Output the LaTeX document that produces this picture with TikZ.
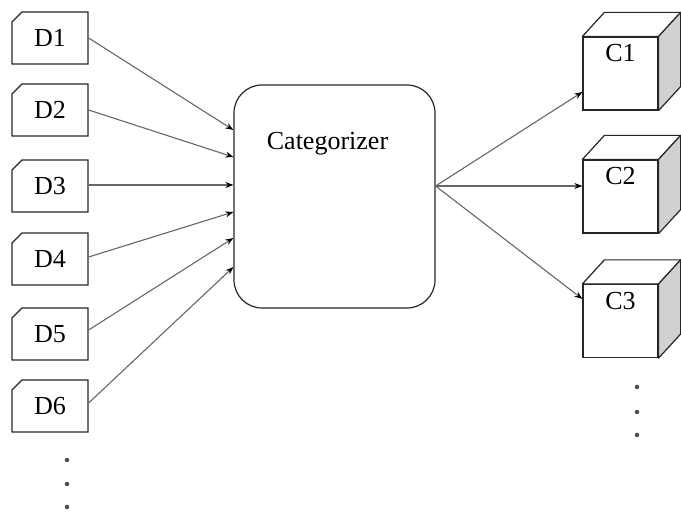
\documentclass[tikz,border=0pt]{standalone}
\usepackage{fontspec}
\setmainfont{Liberation Serif}
\usetikzlibrary{arrows.meta,shapes.misc,calc}

\tikzset{
  outline/.style={draw=black!85, line width=1.2pt},
  labelfont/.style={font=\fontsize{26}{29}\selectfont},
  dbox/.style={outline, labelfont, chamfered rectangle,
    chamfered rectangle corners=north west, chamfered rectangle sep=5pt,
    minimum width=76pt, minimum height=52pt, inner sep=0pt,
    text height=17pt, text depth=0pt},
  catbox/.style={outline, labelfont, rounded corners=28pt, rectangle,
    minimum width=201pt, minimum height=223pt, inner sep=0pt,
    text height=17pt, text depth=110pt},
  cubefront/.style={outline, fill=white, labelfont, rectangle,
    minimum width=75pt, minimum height=73pt, inner sep=0pt,
    text height=17pt, text depth=40pt},
  cubetop/.style={outline, fill=white, line join=round},
  cubeside/.style={outline, fill=black!18, line join=round},
  flow/.style={draw=black!60, line width=1.1pt,
    -{Stealth[length=8pt, width=6pt, color=black]}},
  dot/.style={circle, fill=black!70, inner sep=0pt, minimum size=4.5pt},
}

% top and side faces of a cube whose front face is the given node
\newcommand{\cubesides}[1]{%
  \draw[cubetop] (#1.north west) -- ++(22,-24) -- ($(#1.north east)+(22,-24)$) -- (#1.north east) -- cycle;
  \draw[cubeside] (#1.north east) -- ++(22,-24) -- ($(#1.south east)+(22,-24)$) -- (#1.south east) -- cycle;
}

\begin{document}
\begin{tikzpicture}[x=1pt, y=-1pt]
  \useasboundingbox (0,0) rectangle (681,513);

  % data sources
  \node[dbox] (d1) at (50,38)  {D1};
  \node[dbox] (d2) at (50,110) {D2};
  \node[dbox] (d3) at (50,186) {D3};
  \node[dbox] (d4) at (50,259) {D4};
  \node[dbox] (d5) at (50,334) {D5};
  \node[dbox] (d6) at (50,406) {D6};

  % central categorizer (title set a little left of centre)
  \node[catbox] (cat) at (334.5,196.5) {Categorizer\hspace*{14pt}};

  % categories drawn as cubes
  \node[cubefront] (c1) at (620.5,73.5)  {C1};
  \node[cubefront] (c2) at (620.5,196.5) {C2};
  \node[cubefront] (c3) at (620.5,321)   {C3};
  \cubesides{c1}
  \cubesides{c2}
  \cubesides{c3}

  % entry points on the categorizer
  \coordinate (in1) at (cat.west |- 0,130);
  \coordinate (in2) at (cat.west |- 0,157);
  \coordinate (in3) at (cat.west |- 0,185);
  \coordinate (in4) at (cat.west |- 0,212);
  \coordinate (in5) at (cat.west |- 0,238);
  \coordinate (in6) at (cat.west |- 0,267);
  \coordinate (out) at (cat.east |- 0,186);

  % entry points on the cubes
  \coordinate (t1) at (c1.west |- 0,92);
  \coordinate (t2) at (c2.west |- 0,186);
  \coordinate (t3) at (c3.west |- 0,299);

  \draw[flow] (d1.east) -- (in1);
  \draw[flow] (d2.east) -- (in2);
  \draw[flow] (d3.east |- 0,185) -- (in3);
  \draw[flow] (d4.east |- 0,257) -- (in4);
  \draw[flow] (d5.east |- 0,330) -- (in5);
  \draw[flow] (d6.east |- 0,403) -- (in6);

  \draw[flow] (out) -- (t1);
  \draw[flow] (out) -- (t2);
  \draw[flow] (out) -- (t3);

  % continuation dots
  \node[dot] (ld1) at (67,460) {};
  \node[dot] (ld2) at (67,484) {};
  \node[dot] (ld3) at (67,507) {};
  \node[dot] (rd1) at (637,387) {};
  \node[dot] (rd2) at (637,412) {};
  \node[dot] (rd3) at (637,435) {};
\end{tikzpicture}
\end{document}
